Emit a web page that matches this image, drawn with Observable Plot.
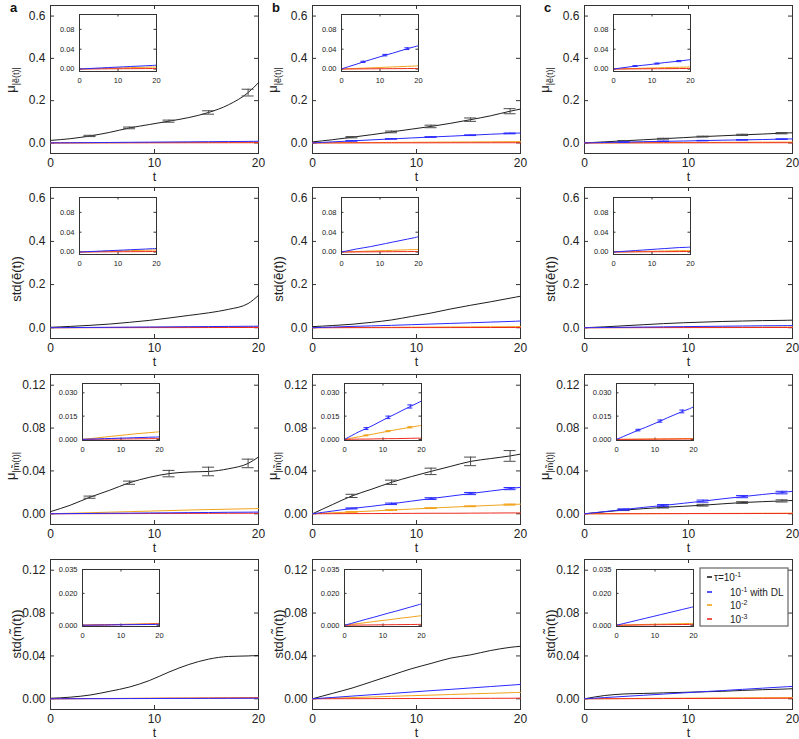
<!DOCTYPE html>
<html><head><meta charset="utf-8">
<script src="https://cdn.jsdelivr.net/npm/d3@7"></script>
<script src="https://cdn.jsdelivr.net/npm/@observablehq/plot@0.6"></script>
<style>
body{margin:0;background:#fff;font-family:"Liberation Sans",Arial,sans-serif;}
#fig{position:relative;width:799px;height:739px;overflow:hidden;background:#fff;}
#fig svg{position:absolute;overflow:visible;}
</style></head><body><div id="fig"></div>
<script>
// ---------- time grid (shared by all series) ----------
const t = [0, 1.9, 3.8, 5.7, 7.6, 9.5, 11.4, 13.3, 15.2, 17.1, 19.0, 20];
const errIdxMain = [2, 4, 6, 8, 10];   // error bars in main panels
const errIdxInset = [3, 6, 9];         // error bars in insets
const xTicks = [0, 10, 20];
const seriesColors = ["#1e1e1e", "#2a2aff", "#f2a31a", "#ee2a1e"];
const legendMain = ["10", "10", "10", "10"];
const legendExp = ["-1", "-1", "-2", "-3"];
const legendPrefix = ["τ=", "", "", ""];
const legendSuffix = ["", " with DL", "", ""];

// ---------- row 1: mu_|e(t)| ----------
const muE_a_k1 = [0.012,0.020,0.033,0.050,0.071,0.087,0.103,0.120,0.144,0.180,0.238,0.285];
const muE_a_dl = [0,0.0008,0.0015,0.0022,0.003,0.0037,0.0044,0.0051,0.0058,0.0065,0.0072,0.0078];
const muE_a_k2 = [0,0.0004,0.0008,0.0012,0.0016,0.002,0.0024,0.0028,0.0032,0.0036,0.004,0.0042];
const muE_a_k3 = [0,0.0001,0.0002,0.0003,0.0004,0.0005,0.0006,0.0007,0.0008,0.0009,0.001,0.001];
const muE_a_k1_err = [0.003,0.004,0.005,0.008,0.016];

const muE_b_k1 = [0.005,0.015,0.027,0.039,0.052,0.065,0.078,0.093,0.110,0.128,0.150,0.160];
const muE_b_dl = [0,0.005,0.0095,0.0145,0.019,0.0235,0.028,0.032,0.0365,0.041,0.045,0.047];
const muE_b_k2 = [0,0.0006,0.0012,0.0018,0.0024,0.003,0.0036,0.0042,0.0048,0.0054,0.006,0.0063];
const muE_b_k3 = [0,0.0001,0.0002,0.0003,0.0004,0.0005,0.0006,0.0007,0.0008,0.0009,0.001,0.001];
const muE_b_k1_err = [0.003,0.004,0.006,0.008,0.012];
const muE_b_dl_err = [0.001,0.0012,0.0015,0.0018,0.002];
const muE_b_dl_ierr = [0.0012,0.0015,0.0018];

const muE_c_k1 = [0,0.005,0.010,0.015,0.020,0.025,0.030,0.034,0.038,0.042,0.046,0.048];
const muE_c_dl = [0,0.002,0.004,0.006,0.0075,0.009,0.011,0.013,0.0145,0.016,0.018,0.019];
const muE_c_k2 = [0,0.0004,0.0008,0.0012,0.0016,0.002,0.0024,0.0028,0.0032,0.0036,0.0039,0.004];
const muE_c_k3 = [0,0.0001,0.0002,0.0003,0.0004,0.0005,0.0006,0.0007,0.0008,0.0009,0.001,0.001];
const muE_c_k1_err = [0.0015,0.002,0.002,0.003,0.003];
const muE_c_dl_err = [0.0008,0.001,0.001,0.0012,0.0012];
const muE_c_dl_ierr = [0.0008,0.001,0.0012];

// ---------- row 2: std(e(t)) ----------
const stdE_a_k1 = [0.002,0.006,0.011,0.017,0.025,0.034,0.045,0.057,0.069,0.085,0.112,0.150];
const stdE_a_dl = [0,0.0007,0.0013,0.002,0.0027,0.0033,0.004,0.0047,0.0053,0.006,0.0067,0.007];
const stdE_a_k2 = [0,0.0004,0.0008,0.0012,0.0016,0.002,0.0024,0.0028,0.0032,0.0036,0.0039,0.0041];
const stdE_a_k3 = [0,0.0001,0.0002,0.0003,0.0004,0.0005,0.0006,0.0007,0.0008,0.0009,0.001,0.001];

const stdE_b_k1 = [0.005,0.010,0.016,0.025,0.036,0.052,0.068,0.087,0.104,0.120,0.137,0.146];
const stdE_b_dl = [0,0.003,0.006,0.0085,0.011,0.014,0.017,0.020,0.023,0.026,0.029,0.031];
const stdE_b_k2 = [0,0.0005,0.001,0.0015,0.002,0.0025,0.003,0.0035,0.004,0.0045,0.0049,0.0051];
const stdE_b_k3 = [0,0.0001,0.0002,0.0003,0.0004,0.0005,0.0006,0.0007,0.0008,0.0009,0.001,0.001];

const stdE_c_k1 = [0,0.004,0.009,0.014,0.019,0.023,0.026,0.029,0.031,0.033,0.034,0.035];
const stdE_c_dl = [0,0.001,0.002,0.003,0.004,0.005,0.006,0.007,0.008,0.009,0.0095,0.010];
const stdE_c_k2 = [0,0.0003,0.0006,0.0009,0.0012,0.0015,0.0018,0.0021,0.0024,0.0027,0.0029,0.003];
const stdE_c_k3 = [0,0.0001,0.0002,0.0003,0.0004,0.0005,0.0006,0.0007,0.0008,0.0009,0.001,0.001];

// ---------- row 3: mu_|m(t)| ----------
const muM_a_k1 = [0.002,0.008,0.0155,0.022,0.029,0.034,0.0375,0.039,0.0395,0.042,0.047,0.053];
const muM_a_dl = [0,0.0002,0.0003,0.0005,0.0006,0.0008,0.0009,0.0011,0.0012,0.0014,0.0015,0.0016];
const muM_a_k2 = [0,0.0005,0.001,0.0015,0.002,0.0025,0.003,0.0035,0.0039,0.0043,0.0047,0.0049];
const muM_a_k3 = [0,0.00005,0.0001,0.00015,0.0002,0.00025,0.0003,0.00035,0.0004,0.00045,0.0005,0.0005];
const muM_a_k1_err = [0.001,0.0015,0.003,0.004,0.004];

const muM_b_k1 = [0,0.0085,0.0167,0.023,0.0294,0.0347,0.0396,0.0443,0.0489,0.0515,0.054,0.0557];
const muM_b_dl = [0,0.0025,0.005,0.007,0.0093,0.0118,0.0142,0.0165,0.0189,0.0212,0.0235,0.0247];
const muM_b_k2 = [0,0.0009,0.0017,0.0026,0.0035,0.0044,0.0053,0.0062,0.007,0.0078,0.0086,0.009];
const muM_b_k3 = [0,0.0001,0.0002,0.0002,0.0003,0.0004,0.0005,0.0005,0.0006,0.0007,0.0008,0.0008];
const muM_b_k1_err = [0.0015,0.002,0.003,0.004,0.005];
const muM_b_dl_err = [0.0005,0.0007,0.0008,0.001,0.001];
const muM_b_k2_err = [0.0003,0.0003,0.0004,0.0004,0.0005];
const muM_b_dl_ierr = [0.0006,0.0008,0.001];
const muM_b_k2_ierr = [0.0003,0.0003,0.0004];

const muM_c_k1 = [0,0.0018,0.0035,0.0048,0.006,0.007,0.008,0.0093,0.0105,0.0113,0.012,0.0124];
const muM_c_dl = [0,0.002,0.004,0.006,0.0078,0.0098,0.0118,0.014,0.016,0.018,0.0198,0.021];
const muM_c_k2 = [0,0.00005,0.0001,0.00015,0.0002,0.00025,0.0003,0.00035,0.0004,0.0005,0.0005,0.0006];
const muM_c_k3 = [0,0.00003,0.00006,0.00009,0.00012,0.00015,0.00018,0.0002,0.00023,0.00026,0.0003,0.0003];
const muM_c_k1_err = [0.0005,0.0006,0.0008,0.0008,0.001];
const muM_c_dl_err = [0.0006,0.0008,0.001,0.001,0.0012];
const muM_c_dl_ierr = [0.0005,0.0007,0.0009];

// ---------- row 4: std(m(t)) ----------
const stdM_a_k1 = [0.0005,0.0015,0.0035,0.007,0.011,0.017,0.025,0.032,0.037,0.0395,0.040,0.0405];
const stdM_a_dl = [0,0.00005,0.0001,0.00015,0.0002,0.00025,0.0003,0.00035,0.0004,0.00045,0.0005,0.0006];
const stdM_a_k2 = [0,0.0001,0.0002,0.0003,0.0004,0.0005,0.0006,0.0007,0.0008,0.0009,0.0011,0.0012];
const stdM_a_k3 = [0,0.0001,0.0002,0.0002,0.0003,0.0004,0.0005,0.0005,0.0006,0.0007,0.0008,0.0008];

const stdM_b_k1 = [0,0.005,0.010,0.016,0.022,0.028,0.033,0.038,0.041,0.045,0.048,0.049];
const stdM_b_dl = [0,0.0012,0.0025,0.0038,0.005,0.0063,0.0076,0.0088,0.0101,0.0114,0.0127,0.0134];
const stdM_b_k2 = [0,0.0006,0.0011,0.0017,0.0023,0.0029,0.0034,0.004,0.0046,0.0051,0.0057,0.006];
const stdM_b_k3 = [0,0.00005,0.0001,0.00015,0.0002,0.00025,0.0003,0.00035,0.0004,0.00045,0.0005,0.0006];

const stdM_c_k1 = [0,0.003,0.0045,0.005,0.0055,0.006,0.0065,0.007,0.0078,0.0085,0.009,0.0094];
const stdM_c_dl = [0,0.0011,0.0022,0.0033,0.0044,0.0055,0.0066,0.0077,0.0088,0.0099,0.011,0.0116];
const stdM_c_k2 = [0,0.0001,0.0002,0.0004,0.0005,0.0006,0.0007,0.0008,0.0009,0.001,0.0011,0.0012];
const stdM_c_k3 = [0,0.00005,0.0001,0.00015,0.0002,0.00025,0.0003,0.00035,0.0004,0.00045,0.0005,0.0005];

// ---------- axes per row ----------
const rowYDomain = [[-0.05,0.65],[-0.05,0.65],[-0.01,0.13],[-0.01,0.13]];
const rowYTicks = [[0,0.2,0.4,0.6],[0,0.2,0.4,0.6],[0,0.04,0.08,0.12],[0,0.04,0.08,0.12]];
const rowYFormat = [".1f",".1f",".2f",".2f"];
const insetYDomain = [[-0.005,0.11],[-0.005,0.11],[-0.0007,0.036],[-0.0008,0.035]];
const insetYTicks = [[0,0.04,0.08],[0,0.04,0.08],[0,0.015,0.03],[0,0.02,0.035]];
const insetYFormat = [".2f",".2f",".3f",".3f"];
const yLabelMain = ["μ", "std(ẽ(t))", "μ", "std(m̃(t))"];
const yLabelSub = ["|ẽ(t)|", "", "|m̃(t)|", ""];
const panelLetters = ["a", "b", "c"];

const panels = [
  {row:0,col:0,s:[muE_a_k1,muE_a_dl,muE_a_k2,muE_a_k3],e:[muE_a_k1_err,null,null,null],ie:[null,null,null,null]},
  {row:0,col:1,s:[muE_b_k1,muE_b_dl,muE_b_k2,muE_b_k3],e:[muE_b_k1_err,muE_b_dl_err,null,null],ie:[null,muE_b_dl_ierr,null,null]},
  {row:0,col:2,s:[muE_c_k1,muE_c_dl,muE_c_k2,muE_c_k3],e:[muE_c_k1_err,muE_c_dl_err,null,null],ie:[null,muE_c_dl_ierr,null,null]},
  {row:1,col:0,s:[stdE_a_k1,stdE_a_dl,stdE_a_k2,stdE_a_k3],e:[null,null,null,null],ie:[null,null,null,null]},
  {row:1,col:1,s:[stdE_b_k1,stdE_b_dl,stdE_b_k2,stdE_b_k3],e:[null,null,null,null],ie:[null,null,null,null]},
  {row:1,col:2,s:[stdE_c_k1,stdE_c_dl,stdE_c_k2,stdE_c_k3],e:[null,null,null,null],ie:[null,null,null,null]},
  {row:2,col:0,s:[muM_a_k1,muM_a_dl,muM_a_k2,muM_a_k3],e:[muM_a_k1_err,null,null,null],ie:[null,null,null,null]},
  {row:2,col:1,s:[muM_b_k1,muM_b_dl,muM_b_k2,muM_b_k3],e:[muM_b_k1_err,muM_b_dl_err,muM_b_k2_err,null],ie:[null,muM_b_dl_ierr,muM_b_k2_ierr,null]},
  {row:2,col:2,s:[muM_c_k1,muM_c_dl,muM_c_k2,muM_c_k3],e:[muM_c_k1_err,muM_c_dl_err,null,null],ie:[null,muM_c_dl_ierr,null,null]},
  {row:3,col:0,s:[stdM_a_k1,stdM_a_dl,stdM_a_k2,stdM_a_k3],e:[null,null,null,null],ie:[null,null,null,null]},
  {row:3,col:1,s:[stdM_b_k1,stdM_b_dl,stdM_b_k2,stdM_b_k3],e:[null,null,null,null],ie:[null,null,null,null]},
  {row:3,col:2,s:[stdM_c_k1,stdM_c_dl,stdM_c_k2,stdM_c_k3],e:[null,null,null,null],ie:[null,null,null,null]}
];

// ---------- layout ----------
const colLeft = [50, 312, 584];
const frameW = 208;
const rowTop = [5, 187, 374, 559];
const rowH = [148, 151, 150, 150];
const insetOffX = [29, 29, 32, 32];
const insetOffY = [9, 10, 9, 10];
const insetW = 77, insetH = 57;
const yLabelCenter = [80, 279, 466, 634];
const frameColor = "#333";
const FONT = "'Liberation Sans', Arial, sans-serif";
const drawOrder = [0, 2, 3, 1];

const fig = document.getElementById("fig");

function place(svg, left, top) {
  svg.style.left = left + "px";
  svg.style.top = top + "px";
  fig.appendChild(svg);
}

function errData(vals, err, idx) {
  return idx.map((i, k) => ({t: t[i], lo: vals[i] - err[k], hi: vals[i] + err[k]}));
}

function errMarks(vals, err, idx, stroke, cap) {
  const d = errData(vals, err, idx);
  return [
    Plot.ruleX(d, {x: "t", y1: "lo", y2: "hi", stroke, strokeWidth: 1}),
    Plot.ruleY(d, {y: "lo", x1: "t", x2: "t", insetLeft: -cap, insetRight: -cap, stroke, strokeWidth: 1}),
    Plot.ruleY(d, {y: "hi", x1: "t", x2: "t", insetLeft: -cap, insetRight: -cap, stroke, strokeWidth: 1})
  ];
}

function tickMarks(yt, yd, len) {
  return [
    Plot.ruleY(yt, {y: d => d, x1: 0, x2: 0, insetRight: -len, stroke: frameColor}),
    Plot.ruleY(yt, {y: d => d, x1: 20, x2: 20, insetLeft: -len, stroke: frameColor}),
    Plot.ruleX(xTicks, {x: d => d, y1: yd[0], y2: yd[0], insetTop: -len, stroke: frameColor}),
    Plot.ruleX(xTicks, {x: d => d, y1: yd[1], y2: yd[1], insetBottom: -len, stroke: frameColor})
  ];
}

function lineData(vals) { return t.map((tt, i) => ({t: tt, v: vals[i]})); }

function drawMain(p) {
  const ml = 50, mr = 14, mt = 8, mb = 36, h = rowH[p.row];
  const yd = rowYDomain[p.row], yt = rowYTicks[p.row];
  const marks = [Plot.frame({stroke: frameColor})];
  marks.push(...tickMarks(yt, yd, 4));
  for (const s of drawOrder) {
    marks.push(Plot.line(lineData(p.s[s]), {x: "t", y: "v", stroke: seriesColors[s], strokeWidth: 1, curve: "monotone-x"}));
    if (p.e[s]) marks.push(...errMarks(p.s[s], p.e[s], errIdxMain, s === 0 ? "#4a4a4a" : seriesColors[s], 6));
  }
  marks.push(Plot.axisY(yt, {anchor: "left", tickSize: 0, tickPadding: 5, tickFormat: d3.format(rowYFormat[p.row]), label: null, fontSize: 12}));
  marks.push(Plot.axisX(xTicks, {anchor: "bottom", tickSize: 0, tickPadding: 5, label: null, fontSize: 12}));
  marks.push(Plot.text(["t"], {frameAnchor: "bottom", dy: 19, lineAnchor: "top", text: d => d, fontSize: 12.5, fill: "#222"}));
  const svg = Plot.plot({
    width: ml + frameW + mr, height: mt + h + mb,
    marginLeft: ml, marginRight: mr, marginTop: mt, marginBottom: mb,
    x: {domain: [0, 20]}, y: {domain: yd},
    style: {background: "none", fontFamily: FONT, fontSize: "12px", color: "#222", overflow: "visible"},
    marks
  });
  place(svg, colLeft[p.col] - ml, rowTop[p.row] - mt);
}

function drawInset(p) {
  const ml = 30, mr = 6, mt = 5, mb = 16;
  const yd = insetYDomain[p.row], yt = insetYTicks[p.row];
  const marks = [Plot.frame({fill: "white", stroke: frameColor})];
  marks.push(...tickMarks(yt, yd, 2.5));
  for (const s of [2, 3, 1]) {
    marks.push(Plot.line(lineData(p.s[s]), {x: "t", y: "v", stroke: seriesColors[s], strokeWidth: 1, curve: "monotone-x", clip: true}));
    if (p.ie[s]) marks.push(...errMarks(p.s[s], p.ie[s], errIdxInset, seriesColors[s], 2.5));
  }
  marks.push(Plot.frame({stroke: frameColor}));
  marks.push(Plot.axisY(yt, {anchor: "left", tickSize: 0, tickPadding: 5, tickFormat: d3.format(insetYFormat[p.row]), label: null, fontSize: 7.5}));
  marks.push(Plot.axisX(xTicks, {anchor: "bottom", tickSize: 0, tickPadding: 6, label: null, fontSize: 7.5}));
  const svg = Plot.plot({
    width: ml + insetW + mr, height: mt + insetH + mb,
    marginLeft: ml, marginRight: mr, marginTop: mt, marginBottom: mb,
    x: {domain: [0, 20]}, y: {domain: yd},
    style: {background: "none", fontFamily: FONT, fontSize: "7.5px", color: "#222", overflow: "visible"},
    marks
  });
  place(svg, colLeft[p.col] + insetOffX[p.row] - ml, rowTop[p.row] + insetOffY[p.row] - mt);
}

panels.forEach(drawMain);
panels.forEach(drawInset);

// ---------- overlay: panel letters, y labels, legend ----------
const ov = d3.create("svg").attr("width", 799).attr("height", 739)
  .style("left", "0px").style("top", "0px").style("font-family", FONT).style("pointer-events", "none");

panelLetters.forEach((L, c) => {
  ov.append("text").attr("x", colLeft[c] - 40).attr("y", 12).attr("font-weight", "bold")
    .attr("font-size", 13).attr("fill", "#111").text(L);
});

for (let r = 0; r < 4; r++) {
  for (let c = 0; c < 3; c++) {
    const isMu = yLabelSub[r] !== "";
    const x = colLeft[c] - (isMu ? 35 : 29);
    const txt = ov.append("text")
      .attr("transform", `translate(${x},${yLabelCenter[r]}) rotate(-90)`)
      .attr("text-anchor", "middle").attr("font-size", 13).attr("fill", "#222");
    if (isMu) {
      txt.append("tspan").text(yLabelMain[r]);
      txt.append("tspan").attr("font-size", 9).attr("dy", 4).text(yLabelSub[r]);
    } else {
      txt.text(yLabelMain[r]);
    }
  }
}

// legend (panel c, bottom row)
const lg = ov.append("g").attr("transform", "translate(700,568)");
lg.append("rect").attr("width", 88).attr("height", 58).attr("fill", "white").attr("stroke", "#666").attr("stroke-width", 1.2);
const lgY = [9, 24, 37, 51];
for (let i = 0; i < 4; i++) {
  lg.append("line").attr("x1", 7).attr("x2", 12).attr("y1", lgY[i]).attr("y2", lgY[i])
    .attr("stroke", seriesColors[i]).attr("stroke-width", 1.6);
  const tx = lg.append("text").attr("x", i === 0 ? 14 : 30).attr("y", lgY[i] + 4)
    .attr("font-size", 10).attr("fill", "#222");
  if (legendPrefix[i]) tx.append("tspan").text(legendPrefix[i]);
  tx.append("tspan").text(legendMain[i]);
  tx.append("tspan").attr("font-size", 7).attr("dy", -4).text(legendExp[i]);
  if (legendSuffix[i]) tx.append("tspan").attr("dy", 4).text(legendSuffix[i]);
}

fig.appendChild(ov.node());
</script></body></html>
